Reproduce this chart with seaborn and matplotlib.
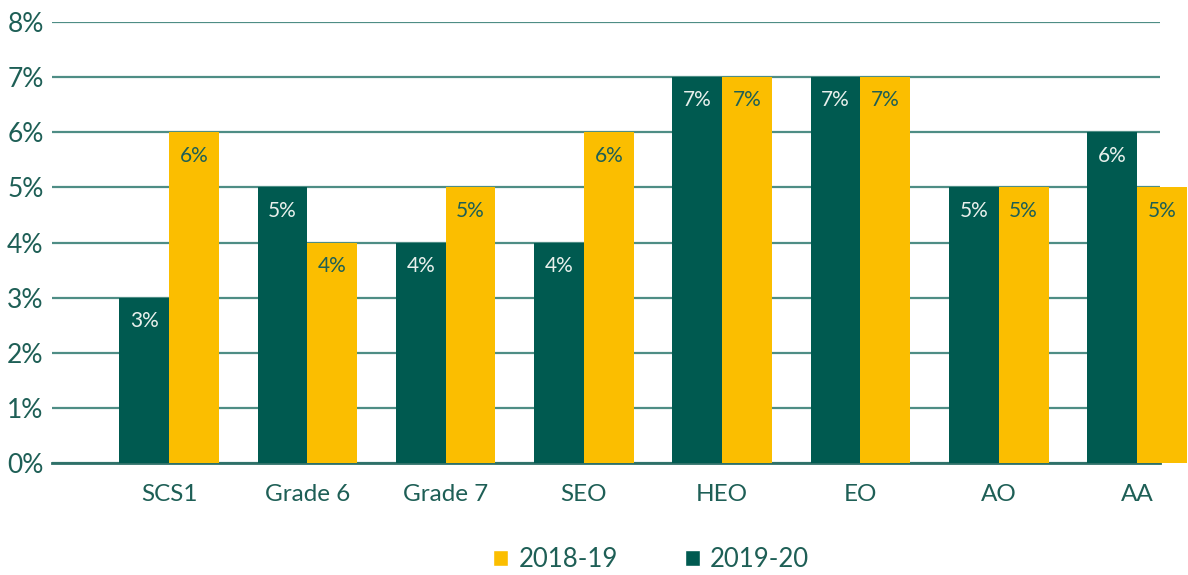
import pandas as pd
import seaborn as sns
import matplotlib.pyplot as plt
from matplotlib.patches import Patch

grades = ['SCS1', 'Grade 6', 'Grade 7', 'SEO', 'HEO', 'EO', 'AO', 'AA']
y2019_20 = [3, 5, 4, 4, 7, 7, 5, 6]
y2018_19 = [6, 4, 5, 6, 7, 7, 5, 5]

green = '#005A50'
yellow = '#FBBE00'
txt = '#1E5F56'
grid = '#4E8D85'

df = pd.DataFrame({
    'Grade': grades * 2,
    'Year': ['2019-20'] * len(grades) + ['2018-19'] * len(grades),
    'Value': y2019_20 + y2018_19,
})

sns.set_style('white')
plt.rcParams['font.family'] = ['Lato', 'DejaVu Sans']

fig = plt.figure(figsize=(11.88, 5.75), dpi=100)
ax = fig.add_axes([0.0438, 0.1948, 0.9326, 0.7669])

sns.barplot(data=df, x='Grade', y='Value', hue='Year',
            hue_order=['2019-20', '2018-19'],
            palette={'2019-20': green, '2018-19': yellow},
            width=0.72, saturation=1, ax=ax, legend=False, zorder=3)

for bar in ax.patches:
    bar.set_clip_on(False)
    bar.set_linewidth(0)

# value labels inside the top of each bar
for cont, col in zip(ax.containers, ['#E8F0EC', txt]):
    labels = [f'{int(v)}%' for v in cont.datavalues]
    texts = ax.bar_label(cont, labels=labels, label_type='edge', padding=-24,
                         color=col, fontsize=15)
    for t in texts:
        t.set_annotation_clip(False)
        t.set_clip_on(False)

ax.set_ylim(0, 8)
ax.set_xlim(-0.846, 7.166)
ax.set_yticks(range(0, 9))
ax.set_yticklabels([f'{i}%' for i in range(0, 9)])
ax.yaxis.grid(True, color=grid, linewidth=1.6, zorder=0)
ax.set_axisbelow(True)
ax.tick_params(axis='y', length=0, pad=6, labelsize=19, labelcolor=txt)
ax.tick_params(axis='x', length=0, pad=15, labelsize=17.5, labelcolor=txt)
ax.set_xlabel('')
ax.set_ylabel('')
for s in ['top', 'right', 'left']:
    ax.spines[s].set_visible(False)
ax.spines['bottom'].set_color('#2E7068')
ax.spines['bottom'].set_linewidth(2)

handles = [Patch(facecolor=yellow, label='2018-19'),
           Patch(facecolor=green, label='2019-20')]
fig.legend(handles=handles, loc='lower center', bbox_to_anchor=(0.548, -0.035),
           ncol=2, frameon=False, fontsize=18.5, labelcolor=txt,
           handlelength=0.6, handleheight=0.6, handletextpad=0.4,
           columnspacing=2.6)

fig.savefig('out.png', dpi=100)
